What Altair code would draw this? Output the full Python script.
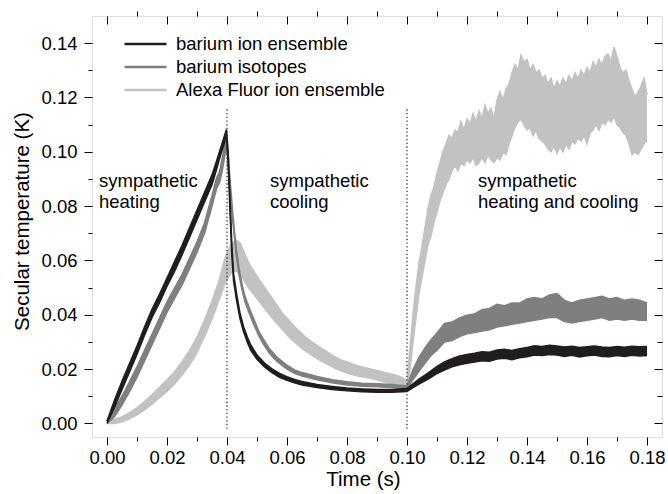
import altair as alt
import pandas as pd

# ---------------- data ----------------
series_names = ["barium ion ensemble", "barium isotopes", "Alexa Fluor ion ensemble"]
series_colors = ["#211d1e", "#7f7f7f", "#c2c2c2"]

# barium ion ensemble (black): time, lower and upper edge of the noisy trace
t_black = [0.0000, 0.0025, 0.0050, 0.0075, 0.0100, 0.0125, 0.0150, 0.0175, 0.0200, 0.0225,
           0.0250, 0.0275, 0.0300, 0.0325, 0.0350, 0.0365, 0.0375, 0.0385, 0.0392, 0.0398,
           0.0404, 0.0410, 0.0416, 0.0422, 0.0432, 0.0443, 0.0455, 0.0468, 0.0480, 0.0500,
           0.0525, 0.0550, 0.0575, 0.0600, 0.0625, 0.0650, 0.0700, 0.0750, 0.0800, 0.0850,
           0.0900, 0.0950, 0.1000, 0.1020, 0.1040, 0.1060, 0.1080, 0.1100, 0.1125, 0.1150,
           0.1175, 0.1200, 0.1225, 0.1250, 0.1275, 0.1300, 0.1325, 0.1350, 0.1375, 0.1400,
           0.1425, 0.1450, 0.1475, 0.1500, 0.1525, 0.1550, 0.1575, 0.1600, 0.1625, 0.1650,
           0.1675, 0.1700, 0.1725, 0.1750, 0.1775, 0.1800]
lo_black = [0.0000, 0.0060, 0.0125, 0.0190, 0.0255, 0.0325, 0.0390, 0.0445, 0.0505, 0.0560,
            0.0620, 0.0685, 0.0750, 0.0815, 0.0880, 0.0935, 0.0975, 0.1010, 0.1035, 0.1068,
            0.0955, 0.0785, 0.0625, 0.0525, 0.0453, 0.0388, 0.0338, 0.0298, 0.0268, 0.0236,
            0.0208, 0.0187, 0.0170, 0.0159, 0.0150, 0.0142, 0.0132, 0.0125, 0.0120, 0.0117,
            0.0115, 0.0115, 0.0118, 0.0132, 0.0145, 0.0157, 0.0170, 0.0184, 0.0197, 0.0209,
            0.0216, 0.0222, 0.0226, 0.0231, 0.0229, 0.0237, 0.0240, 0.0235, 0.0242, 0.0246,
            0.0252, 0.0250, 0.0254, 0.0252, 0.0247, 0.0251, 0.0245, 0.0249, 0.0252, 0.0247,
            0.0246, 0.0250, 0.0247, 0.0251, 0.0248, 0.0250]
hi_black = [0.0008, 0.0085, 0.0155, 0.0220, 0.0285, 0.0355, 0.0420, 0.0475, 0.0535, 0.0595,
            0.0655, 0.0720, 0.0785, 0.0850, 0.0915, 0.0965, 0.1000, 0.1035, 0.1060, 0.1082,
            0.0995, 0.0825, 0.0655, 0.0550, 0.0477, 0.0407, 0.0357, 0.0317, 0.0287, 0.0252,
            0.0222, 0.0201, 0.0184, 0.0172, 0.0162, 0.0154, 0.0143, 0.0136, 0.0130, 0.0127,
            0.0125, 0.0125, 0.0128, 0.0146, 0.0163, 0.0178, 0.0193, 0.0210, 0.0226, 0.0238,
            0.0248, 0.0254, 0.0258, 0.0264, 0.0262, 0.0270, 0.0273, 0.0268, 0.0275, 0.0279,
            0.0286, 0.0283, 0.0288, 0.0285, 0.0281, 0.0284, 0.0279, 0.0282, 0.0285, 0.0281,
            0.0279, 0.0283, 0.0280, 0.0284, 0.0282, 0.0283]

# barium isotopes (dark grey)
t_gray = [0.0000, 0.0025, 0.0050, 0.0075, 0.0100, 0.0125, 0.0150, 0.0175, 0.0200, 0.0225,
          0.0250, 0.0275, 0.0300, 0.0325, 0.0350, 0.0365, 0.0375, 0.0385, 0.0390, 0.0395,
          0.0400, 0.0403, 0.0410, 0.0420, 0.0430, 0.0440, 0.0450, 0.0460, 0.0475, 0.0490,
          0.0505, 0.0520, 0.0540, 0.0565, 0.0600, 0.0625, 0.0650, 0.0700, 0.0750, 0.0800,
          0.0850, 0.0900, 0.0950, 0.1000, 0.1020, 0.1040, 0.1060, 0.1080, 0.1100, 0.1125,
          0.1150, 0.1175, 0.1200, 0.1225, 0.1250, 0.1275, 0.1300, 0.1325, 0.1350, 0.1375,
          0.1400, 0.1425, 0.1450, 0.1475, 0.1500, 0.1525, 0.1550, 0.1575, 0.1600, 0.1625,
          0.1650, 0.1675, 0.1700, 0.1725, 0.1750, 0.1775, 0.1800]
lo_gray = [0.0000, 0.0025, 0.0068, 0.0117, 0.0170, 0.0230, 0.0290, 0.0350, 0.0410, 0.0460,
           0.0510, 0.0570, 0.0630, 0.0700, 0.0800, 0.0865, 0.0885, 0.0935, 0.0970, 0.1000,
           0.1022, 0.0962, 0.0862, 0.0738, 0.0628, 0.0548, 0.0493, 0.0448, 0.0403, 0.0363,
           0.0325, 0.0295, 0.0260, 0.0230, 0.0200, 0.0185, 0.0175, 0.0161, 0.0150, 0.0142,
           0.0137, 0.0135, 0.0132, 0.0127, 0.0162, 0.0192, 0.0222, 0.0250, 0.0270, 0.0300,
           0.0305, 0.0320, 0.0330, 0.0335, 0.0340, 0.0345, 0.0355, 0.0360, 0.0365, 0.0370,
           0.0375, 0.0380, 0.0385, 0.0390, 0.0390, 0.0375, 0.0370, 0.0375, 0.0380, 0.0385,
           0.0390, 0.0380, 0.0385, 0.0380, 0.0385, 0.0380, 0.0380]
hi_gray = [0.0008, 0.0055, 0.0100, 0.0153, 0.0208, 0.0268, 0.0328, 0.0388, 0.0448, 0.0498,
           0.0548, 0.0608, 0.0668, 0.0738, 0.0838, 0.0903, 0.0925, 0.0982, 0.1010, 0.1035,
           0.1048, 0.0998, 0.0898, 0.0762, 0.0652, 0.0572, 0.0512, 0.0467, 0.0422, 0.0382,
           0.0342, 0.0312, 0.0277, 0.0245, 0.0214, 0.0197, 0.0187, 0.0173, 0.0161, 0.0153,
           0.0148, 0.0146, 0.0143, 0.0138, 0.0198, 0.0243, 0.0278, 0.0308, 0.0333, 0.0368,
           0.0373, 0.0388, 0.0398, 0.0403, 0.0418, 0.0423, 0.0438, 0.0433, 0.0443, 0.0443,
           0.0458, 0.0463, 0.0458, 0.0473, 0.0478, 0.0453, 0.0443, 0.0453, 0.0458, 0.0463,
           0.0468, 0.0458, 0.0463, 0.0453, 0.0458, 0.0453, 0.0443]

# Alexa Fluor ion ensemble (light grey)
t_light = [0.0000, 0.0025, 0.0050, 0.0075, 0.0100, 0.0125, 0.0150, 0.0175, 0.0200, 0.0225,
           0.0250, 0.0275, 0.0300, 0.0325, 0.0350, 0.0375, 0.0390, 0.0400, 0.0415, 0.0430,
           0.0445, 0.0460, 0.0475, 0.0490, 0.0510, 0.0535, 0.0560, 0.0585, 0.0610, 0.0635,
           0.0660, 0.0685, 0.0710, 0.0735, 0.0760, 0.0785, 0.0810, 0.0835, 0.0860, 0.0885,
           0.0910, 0.0935, 0.0960, 0.0985,
           0.100, 0.101, 0.102, 0.103, 0.104, 0.105, 0.106, 0.107, 0.108, 0.109,
           0.110, 0.111, 0.112, 0.113, 0.114, 0.115, 0.116, 0.117, 0.118, 0.119,
           0.120, 0.121, 0.122, 0.123, 0.124, 0.125, 0.126, 0.127, 0.128, 0.129,
           0.130, 0.131, 0.132, 0.133, 0.134, 0.135, 0.136, 0.137, 0.138, 0.139,
           0.140, 0.141, 0.142, 0.143, 0.144, 0.145, 0.146, 0.147, 0.148, 0.149,
           0.150, 0.151, 0.152, 0.153, 0.154, 0.155, 0.156, 0.157, 0.158, 0.159,
           0.160, 0.161, 0.162, 0.163, 0.164, 0.165, 0.166, 0.167, 0.168, 0.169,
           0.170, 0.171, 0.172, 0.173, 0.174, 0.175, 0.176, 0.177, 0.178, 0.179,
           0.180]
lo_light = [0.0000, 0.0000, 0.0006, 0.0017, 0.0032, 0.0050, 0.0071, 0.0095, 0.0118, 0.0145,
            0.0178, 0.0215, 0.0262, 0.0320, 0.0385, 0.0460, 0.0505, 0.0530, 0.0555, 0.0562,
            0.0548, 0.0520, 0.0495, 0.0475, 0.0445, 0.0410, 0.0375, 0.0345, 0.0315, 0.0290,
            0.0268, 0.0250, 0.0232, 0.0218, 0.0203, 0.0192, 0.0182, 0.0175, 0.0170, 0.0165,
            0.0157, 0.0150, 0.0143, 0.0135,
            0.0128, 0.0200, 0.0300, 0.0390, 0.0480, 0.0540, 0.0600, 0.0660, 0.0690, 0.0740,
            0.0780, 0.0820, 0.0850, 0.0880, 0.0900, 0.0930, 0.0950, 0.0930, 0.0960, 0.0950,
            0.0970, 0.0960, 0.0980, 0.0950, 0.0960, 0.0980, 0.0960, 0.0990, 0.0970, 0.0960,
            0.0980, 0.0970, 0.1000, 0.0990, 0.1030, 0.1060, 0.1090, 0.1110, 0.1120, 0.1100,
            0.1080, 0.1090, 0.1060, 0.1080, 0.1050, 0.1040, 0.1030, 0.1010, 0.1000, 0.1020,
            0.0995, 0.1020, 0.1000, 0.1030, 0.1010, 0.1040, 0.1030, 0.1050, 0.1040, 0.1060,
            0.1030, 0.1070, 0.1080, 0.1100, 0.1080, 0.1110, 0.1100, 0.1120, 0.1110, 0.1130,
            0.1100, 0.1090, 0.1070, 0.1060, 0.1030, 0.0990, 0.1000, 0.0990, 0.1010, 0.1030,
            0.1040]
hi_light = [0.0008, 0.0014, 0.0024, 0.0039, 0.0058, 0.0080, 0.0105, 0.0133, 0.0160, 0.0190,
            0.0226, 0.0268, 0.0318, 0.0380, 0.0450, 0.0530, 0.0595, 0.0630, 0.0660, 0.0675,
            0.0662, 0.0622, 0.0585, 0.0560, 0.0525, 0.0485, 0.0445, 0.0405, 0.0375, 0.0345,
            0.0320, 0.0298, 0.0280, 0.0262, 0.0245, 0.0232, 0.0222, 0.0212, 0.0205, 0.0198,
            0.0192, 0.0185, 0.0178, 0.0168,
            0.0155, 0.0280, 0.0400, 0.0500, 0.0590, 0.0650, 0.0720, 0.0790, 0.0840, 0.0870,
            0.0920, 0.0960, 0.1000, 0.1030, 0.1060, 0.1050, 0.1080, 0.1070, 0.1110, 0.1080,
            0.1120, 0.1100, 0.1140, 0.1110, 0.1150, 0.1120, 0.1170, 0.1140, 0.1160, 0.1120,
            0.1190, 0.1220, 0.1190, 0.1230, 0.1250, 0.1290, 0.1320, 0.1300, 0.1355, 0.1330,
            0.1340, 0.1300, 0.1320, 0.1290, 0.1300, 0.1270, 0.1280, 0.1250, 0.1270, 0.1230,
            0.1260, 0.1240, 0.1270, 0.1250, 0.1280, 0.1260, 0.1290, 0.1270, 0.1300, 0.1280,
            0.1310, 0.1290, 0.1330, 0.1310, 0.1340, 0.1320, 0.1350, 0.1360, 0.1330, 0.1385,
            0.1350, 0.1310, 0.1290, 0.1300, 0.1260, 0.1230, 0.1200, 0.1220, 0.1240, 0.1270,
            0.1210]

# phase boundaries (dotted lines)
phase_times = [0.04, 0.10]
phase_bottom = -0.002
phase_top = 0.116

x_major = [0.00, 0.02, 0.04, 0.06, 0.08, 0.10, 0.12, 0.14, 0.16, 0.18]
x_minor = [0.01, 0.03, 0.05, 0.07, 0.09, 0.11, 0.13, 0.15, 0.17]
y_major = [0.00, 0.02, 0.04, 0.06, 0.08, 0.10, 0.12, 0.14]
y_minor = [0.01, 0.03, 0.05, 0.07, 0.09, 0.11, 0.13]

annotations = ["sympathetic\nheating", "sympathetic\ncooling", "sympathetic\nheating and cooling"]

# ---------------- chart ----------------
FONT = "Liberation Sans"
W, H = 570, 421

xs = alt.Scale(domain=[-0.005, 0.185], nice=False, zero=False)
ys = alt.Scale(domain=[-0.005, 0.15], nice=False, zero=False)
stroke_scale = alt.Scale(domain=series_names, range=series_colors)

legend = alt.Legend(title=None, orient="none", legendX=31, legendY=16.5,
                    symbolType="stroke", symbolSize=1764, symbolStrokeWidth=2.5,
                    labelFont=FONT, labelFontSize=18.5, labelColor="black",
                    labelOffset=8, clipHeight=23, rowPadding=0, padding=0,
                    labelLimit=500)

def ax(values, size, orient, offset=0, labels=False, title=None, **kw):
    args = dict(values=values, tickSize=size, orient=orient, labels=labels,
                domain=False, grid=False, ticks=True, tickColor="black",
                tickWidth=1, title=title)
    if offset:
        args["offset"] = offset
    args.update(kw)
    return alt.Axis(**args)

x_main = ax(x_major, 8, "bottom", labels=True, title="Time (s)", format=".2f",
            labelFont=FONT, labelFontSize=18.5, labelColor="black", labelPadding=3,
            labelFlush=False, titleFont=FONT, titleFontSize=20.5, titleFontWeight="normal",
            titleColor="black", titleX=271, titleY=48, titleBaseline="alphabetic",
            titleAlign="center")
y_main = ax(y_major, 8, "left", labels=True, title="Secular temperature (K)", format=".2f",
            labelFont=FONT, labelFontSize=18.5, labelColor="black", labelPadding=7,
            labelFlush=False, titleFont=FONT, titleFontSize=20.5, titleFontWeight="normal",
            titleColor="black", titleX=-64, titleY=205, titleAngle=270,
            titleBaseline="alphabetic", titleAlign="center")
x_minor_ax = ax(x_minor, 4, "bottom")
y_minor_ax = ax(y_minor, 4, "left")
x_top_major = ax(x_major, 8, "bottom", offset=-H)
y_right_major = ax(y_major, 8, "left", offset=-W)
x_top_minor = ax(x_minor, 5, "top")
y_right_minor = ax(y_minor, 5, "left", offset=-W)

frames = {
    series_names[0]: pd.DataFrame({"t": t_black, "lo": lo_black, "hi": hi_black}),
    series_names[1]: pd.DataFrame({"t": t_gray, "lo": lo_gray, "hi": hi_gray}),
    series_names[2]: pd.DataFrame({"t": t_light, "lo": lo_light, "hi": hi_light}),
}
for name, df in frames.items():
    df["series"] = name

axes_plan = {
    series_names[2]: ((x_main, y_main), (x_minor_ax, y_minor_ax)),
}

layers = []
for idx in [2, 1, 0]:
    name = series_names[idx]
    df = frames[name]
    area_axes, line_axes = axes_plan.get(name, ((None, None), (None, None)))
    area = alt.Chart(df).mark_area(opacity=1, color=series_colors[idx]).encode(
        x=alt.X("t:Q", scale=xs, axis=area_axes[0]),
        y=alt.Y("lo:Q", scale=ys, axis=area_axes[1]),
        y2="hi:Q",
    )
    line = alt.Chart(df).transform_fold(["lo", "hi"], as_=["edge", "val"]).mark_line(
        strokeWidth=1.6, strokeJoin="miter").encode(
        x=alt.X("t:Q", scale=xs, axis=line_axes[0]),
        y=alt.Y("val:Q", scale=ys, axis=line_axes[1]),
        detail="edge:N",
        stroke=alt.Stroke("series:N", scale=stroke_scale, legend=legend),
    )
    layers += [area, line]

rule_axes = [(x_top_major, y_right_major), (x_top_minor, y_right_minor)]
for k, pt in enumerate(phase_times):
    rdf = pd.DataFrame({"t": [pt], "y0": [phase_bottom], "y1": [phase_top]})
    rule = alt.Chart(rdf).mark_rule(color="#333333", strokeWidth=1.3, strokeDash=[1.3, 2.4]).encode(
        x=alt.X("t:Q", scale=xs, axis=rule_axes[k][0]),
        y=alt.Y("y0:Q", scale=ys, axis=rule_axes[k][1]),
        y2="y1:Q",
    )
    layers.append(rule)

ann_x = [7, 178, 386]
one = pd.DataFrame({"a": [0]})
for txt, px in zip(annotations, ann_x):
    layers.append(
        alt.Chart(one).mark_text(text=txt, lineBreak="\n", lineHeight=21, align="left",
                                 baseline="alphabetic", font=FONT, fontSize=18.5,
                                 color="black").encode(x=alt.value(px), y=alt.value(171))
    )

chart = alt.layer(*layers).properties(
    width=W, height=H,
    padding={"left": 92, "top": 16, "right": 6, "bottom": 57},
    autosize=alt.AutoSizeParams(type="none"),
).resolve_axis(x="independent", y="independent").configure_view(
    stroke="black", strokeWidth=1.2
).configure(background="white")

chart.save("out.html", embed_options={"renderer": "svg", "actions": False})
